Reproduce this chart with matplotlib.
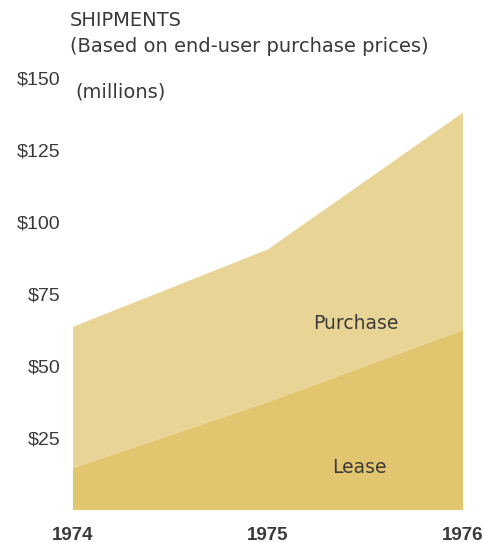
import matplotlib
matplotlib.use("Agg")
import matplotlib.pyplot as plt

years = [1974, 1975, 1976]
lease = [14.6, 37.5, 62.5]
purchase = [49.0, 53.0, 75.5]   # stacked on top of lease
ytick_values = [25, 50, 75, 100, 125, 150]
ytick_labels = ["$25", "$50", "$75", "$100", "$125", "$150"]
xtick_labels = ["1974", "1975", "1976"]

col_lease = "#E2C56F"
col_purchase = "#E8D596"
txt = "#3a3a3a"

plt.rcParams['font.family'] = ['Liberation Sans', 'DejaVu Sans']
wide = ['DejaVu Sans']

fig = plt.figure(figsize=(4.85, 5.43), dpi=100)
ax = fig.add_axes([73/485, 1-510/543, 390/485, (510-78)/543])
ax.stackplot(years, lease, purchase, colors=[col_lease, col_purchase], linewidth=0)
ax.set_xlim(1974, 1976)
ax.set_ylim(0, 150)
for s in ax.spines.values():
    s.set_visible(False)
ax.set_yticks(ytick_values)
ax.set_yticklabels(ytick_labels)
ax.set_xticks(years)
ax.set_xticklabels(xtick_labels)
ax.tick_params(axis='y', length=0, pad=9, labelsize=14, labelcolor=txt)
ax.tick_params(axis='x', length=0, pad=12, labelsize=13.5, labelcolor=txt)
for lbl in ax.get_xticklabels():
    lbl.set_fontweight('bold')

ax.text(1975.45, 64.6, "Purchase", ha='center', va='center', fontsize=13.5, color=txt, family=wide)
ax.text(1975.47, 14.6, "Lease", ha='center', va='center', fontsize=13.5, color=txt, family=wide)

fig.text(70/485, 1-21/543, "SHIPMENTS", ha='left', va='center', fontsize=14, color=txt, family=wide)
fig.text(70/485, 1-47/543, "(Based on end-user purchase prices)", ha='left', va='center', fontsize=14, color=txt, family=wide)
fig.text(75/485, 1-92/543, "(millions)", ha='left', va='center', fontsize=14, color=txt, family=wide)

fig.savefig("out.png", dpi=100, facecolor='white')
